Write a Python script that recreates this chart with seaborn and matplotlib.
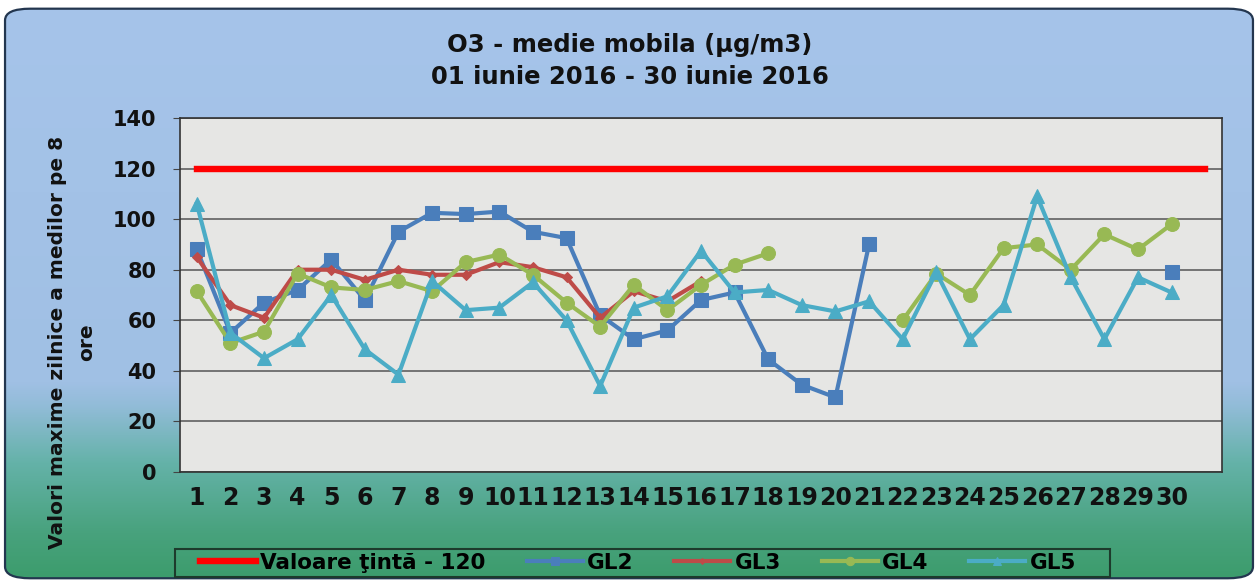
import numpy as np
import pandas as pd
import matplotlib
matplotlib.use("Agg")
import matplotlib.pyplot as plt
import seaborn as sns
from matplotlib.patches import FancyBboxPatch, Rectangle

nan = np.nan
days = list(range(1, 32))
day_labels = [str(d) for d in range(1, 31)] + [""]
target = [120] * 31
gl2 = [88, 55, 67, 72, 84, 68, 95, 102.5, 102, 103, 95, 92.5, 62, 52.5, 56, 68, 71, 44.5, 34.5, 29.5,
       90, nan, nan, nan, nan, nan, nan, nan, nan, 79, nan]
gl3 = [85, 66, 61, 80, 80, 76, 80, 78, 78, 83, 81, 77, 61, 71.5, 67.5, 75.5] + [nan] * 15
gl4 = [71.5, 51, 55.5, 78.5, 73, 72, 75.5, 71.5, 83, 86, 78, 67, 57.5, 74, 64, 74, 82, 86.5,
       nan, nan, nan, 60, 78.5, 70, 88.5, 90, 80, 94, 88, 98, nan]
gl5 = [106, 55, 45, 52.5, 70, 48.5, 38.5, 75.5, 64, 65, 75, 60, 34, 65, 69.5, 87.5, 71, 72, 66, 63.5,
       67.5, 52.5, 79, 52.5, 66, 109, 77, 52.5, 77, 71, nan]
y_ticks = [0, 20, 40, 60, 80, 100, 120, 140]
title = "O3 - medie mobila (µg/m3)\n01 iunie 2016 - 30 iunie 2016"
ylabel = "Valori maxime zilnice a medilor pe 8\nore"
series = [
    ("Valoare ţintă - 120", target, "#ff0000", None, 0, 4.6),
    ("GL2", gl2, "#4a7ebb", "s", 10, 3.0),
    ("GL3", gl3, "#be4b48", "D", 5, 3.0),
    ("GL4", gl4, "#98b954", "o", 10, 3.0),
    ("GL5", gl5, "#4bacc6", "^", 10, 3.0),
]

FONT = "DejaVu Sans"
W, H = 1258, 580
fig = plt.figure(figsize=(W / 100, H / 100), dpi=100)
fig.patch.set_facecolor("white")

# background with rounded frame and vertical gradient
bg = fig.add_axes([0, 0, 1, 1], zorder=-10)
bg.set_xlim(0, 1); bg.set_ylim(0, 1); bg.axis("off")
stops_pos = [0.0, 0.08, 0.2, 0.3, 0.34, 1.0]
stops_col = np.array([[60, 156, 108], [72, 162, 125], [100, 178, 168], [146, 188, 216],
                      [160, 192, 228], [166, 196, 234]]) / 255.0
t = np.linspace(0, 1, 256)
grad = np.stack([np.interp(t, stops_pos, stops_col[:, i]) for i in range(3)], axis=-1)[:, None, :]
frame = FancyBboxPatch((0.004, 0.003), 0.992, 0.982, boxstyle="round,pad=0,rounding_size=0.02",
                       transform=bg.transAxes, facecolor="none", edgecolor="#23364f", lw=1.6, zorder=3)
im = bg.imshow(grad, extent=[0, 1, 0, 1], origin="lower", aspect="auto", zorder=1)
bg.add_patch(frame)
im.set_clip_path(frame)
# legend box
bg.add_patch(Rectangle((175 / W, 1 - 577 / H), (1110 - 175) / W, 28 / H, transform=bg.transAxes,
                       facecolor="none", edgecolor="#1d3b2c", lw=1.5, zorder=4))

ax = fig.add_axes([180 / W, 1 - 472 / H, (1222 - 180) / W, (472 - 118) / H])
ax.set_facecolor("#e6e6e4")

for name, vals, col, mk, ms, lw in series:
    df = pd.DataFrame({"day": days, "val": vals})
    valid = df["val"].notna()
    grp = (valid != valid.shift()).cumsum()
    first = True
    for _, seg in df[valid].groupby(grp[valid]):
        kw = dict(marker=mk, markersize=ms, markeredgecolor=col, markerfacecolor=col) if mk else {}
        sns.lineplot(data=seg, x="day", y="val", ax=ax, color=col, linewidth=lw,
                     estimator=None, sort=False, label=name if first else "_nolegend_",
                     legend=False, **kw)
        first = False

ax.set_xlim(0.5, 31.5)
ax.set_ylim(0, 140)
ax.set_xticks(days)
ax.set_xticklabels(day_labels, fontsize=17, fontweight="bold", family=FONT)
ax.set_yticks(y_ticks)
ax.set_yticklabels([str(v) for v in y_ticks], fontsize=15, fontweight="bold", family=FONT)
ax.tick_params(axis="x", length=0, pad=10, colors="#111111")
ax.tick_params(axis="y", length=5, pad=12, colors="#111111", color="#444444")
ax.grid(axis="y", color="#555555", lw=1.1)
ax.grid(axis="x", visible=False)
ax.set_axisbelow(True)
ax.set_xlabel(""); ax.set_ylabel("")
for s in ax.spines.values():
    s.set_color("#333333"); s.set_linewidth(1.2)

fig.text(630 / W, 1 - 61 / H, title, ha="center", va="center", fontsize=17.5, fontweight="bold",
         family=FONT, linespacing=1.42, color="#111111")
fig.text(72 / W, 1 - 342 / H, ylabel, ha="center", va="center", rotation=90, fontsize=14.5,
         fontweight="bold", family=FONT, multialignment="center", color="#111111", linespacing=1.65)

handles, labels = ax.get_legend_handles_labels()
leg = fig.legend(handles, labels, loc="center left", bbox_to_anchor=(200 / W, 1 - 563 / H),
                 ncol=5, frameon=False, prop={"family": FONT, "weight": "bold", "size": 15.5},
                 handlelength=2.6, columnspacing=1.9, handletextpad=0.2, borderpad=0.0,
                 borderaxespad=0, markerscale=0.6)

fig.savefig("out.png", dpi=100)
